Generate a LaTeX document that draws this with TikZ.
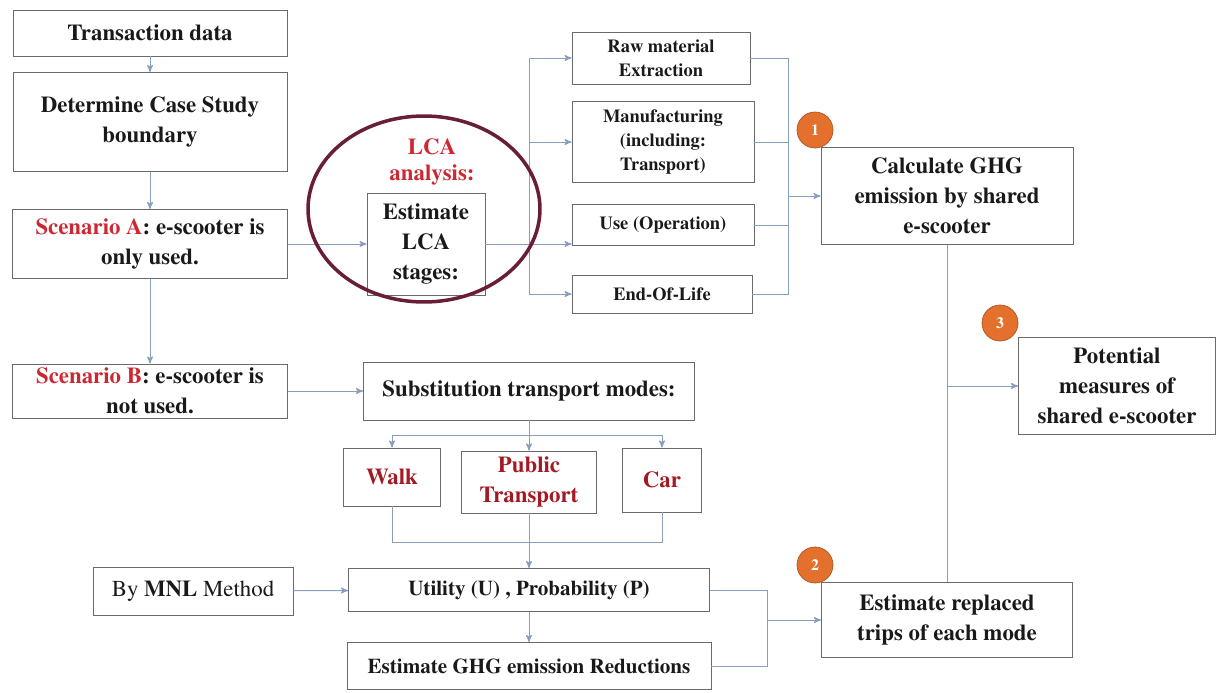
\documentclass[tikz,border=0pt]{standalone}
\usepackage[T1]{fontenc}
\usepackage{mathptmx}
\usetikzlibrary{arrows}
\definecolor{boxline}{RGB}{105,105,110}
\definecolor{linkline}{RGB}{135,158,190}
\definecolor{scenred}{RGB}{205,40,50}
\definecolor{modered}{RGB}{165,25,35}
\definecolor{ovalline}{RGB}{105,30,55}
\definecolor{badgeorange}{RGB}{228,112,45}
\definecolor{inkblack}{RGB}{25,25,25}

\begin{document}
\begin{tikzpicture}[x=0.02cm,y=-0.02cm]
\tikzstyle{every node}=[inner sep=1pt, text=inkblack]
\tikzstyle{box}=[draw=boxline, fill=white, align=center, font=\bfseries\fontsize{13}{17}\selectfont]
\tikzstyle{stage}=[box, font=\bfseries\fontsize{10.5}{13.5}\selectfont]
\tikzstyle{longbox}=[box, font=\bfseries\fontsize{12}{14}\selectfont]
\tikzstyle{badge}=[circle, fill=badgeorange, draw=badgeorange!75!black, minimum size=0.72cm, text=white, font=\bfseries\small]
\tikzstyle{link}=[draw=linkline, line width=0.55pt]
\tikzstyle{arr}=[link, ->, >=stealth']
\useasboundingbox (0,0) rectangle (1217,693);
% left column
\draw (150,33) node (tdata) [box, minimum width=5.48cm, minimum height=0.92cm] {Transaction data};
\draw (150,122) node (bound) [box, minimum width=5.48cm, minimum height=1.98cm] {Determine Case Study\\boundary};
\draw (150,244) node (scena) [box, minimum width=5.5cm, minimum height=1.38cm] {\textcolor{scenred}{Scenario A}: e-scooter is\\only used.};
\draw (150,391) node (scenb) [box, minimum width=5.5cm, minimum height=1.08cm] {\textcolor{scenred}{Scenario B}: e-scooter is\\not used.};
% LCA part
\draw (432,162) node (lcatitle) [align=center, text=scenred, font=\bfseries\fontsize{13}{15}\selectfont] {LCA\\analysis:};
\draw (426,244) node (lcast) [box, minimum width=2.36cm, minimum height=2.04cm] {Estimate\\LCA\\stages:};
\draw (661,58) node (raw) [stage, minimum width=3.56cm, minimum height=1.04cm] {Raw material\\Extraction};
\draw (663,142) node (manu) [stage, minimum width=3.64cm, minimum height=1.62cm] {Manufacturing\\(including:\\Transport)};
\draw (663,225) node (use) [stage, minimum width=3.64cm, minimum height=0.82cm] {Use (Operation)};
\draw (662,294) node (eol) [stage, minimum width=3.6cm, minimum height=0.76cm] {End-Of-Life};
\draw (947,196) node (ghg) [box, minimum width=5.04cm, minimum height=1.94cm] {Calculate GHG\\emission by shared\\e-scooter};
\draw (1117,386) node (meas) [box, minimum width=3.94cm, minimum height=1.94cm] {Potential\\measures of\\shared e-scooter};
% substitution part
\draw (529,391) node (subst) [box, minimum width=6.62cm, minimum height=1.16cm] {Substitution transport modes:};
\draw (392,477) node (walk) [box, text=modered, minimum width=1.94cm, minimum height=1.16cm] {Walk};
\draw (529,482) node (ptr) [box, text=modered, minimum width=2.7cm, minimum height=1.24cm] {Public\\Transport};
\draw (662,480) node (car) [box, text=modered, minimum width=1.58cm, minimum height=1.28cm] {Car};
\draw (193,591) node (mnl) [box, font=\fontsize{13}{15}\selectfont, minimum width=4cm, minimum height=0.96cm] {By \textbf{MNL} Method};
\draw (529,590) node (util) [longbox, minimum width=7.22cm, minimum height=0.86cm] {Utility (U) , Probability (P)};
\draw (529,666) node (redu) [longbox, minimum width=7.28cm, minimum height=0.94cm] {Estimate GHG emission Reductions};
\draw (947,620) node (repl) [box, minimum width=5.02cm, minimum height=1.5cm] {Estimate replaced\\trips of each mode};
% join points
\coordinate (lcasplit) at (529,244);
\coordinate (lcamerge) at (788,196);
\coordinate (modesplit) at (529,435);
\coordinate (modemerge) at (529,542);
\coordinate (utilmerge) at (767,620);
\coordinate (ghgsplit) at (947,386);
% connectors
\draw[arr] (tdata) -- (bound);
\draw[arr] (bound) -- (scena);
\draw[arr] (scena) -- (scenb);
\draw[arr] (scena) -- (lcast);
\draw[link] (lcast.east) -- (lcasplit);
\draw[arr] (lcasplit) |- (raw.west);
\draw[arr] (lcasplit) |- (manu.west);
\draw[arr] (lcasplit) -- (use.west |- lcasplit);
\draw[arr] (lcasplit) |- (eol.west);
\draw[link] (raw.east) -| (lcamerge);
\draw[link] (manu.east) -| (lcamerge);
\draw[link] (use.east) -| (lcamerge);
\draw[link] (eol.east) -| (lcamerge);
\draw[arr] (lcamerge) -- (ghg.west);
\draw[link] (ghg.south) -- (repl.north);
\draw[arr] (ghgsplit) -- (meas.west);
\draw[arr] (scenb) -- (subst);
\draw[link] (subst.south) -- (modesplit);
\draw[arr] (modesplit) -| (walk.north);
\draw[arr] (modesplit) -- (ptr.north);
\draw[arr] (modesplit) -| (car.north);
\draw[link] (walk.south) |- (modemerge);
\draw[link] (car.south) |- (modemerge);
\draw[link] (ptr.south) -- (modemerge);
\draw[arr] (modemerge) -- (util.north);
\draw[arr] (mnl) -- (util);
\draw[arr] (util) -- (redu);
\draw[link] (util.east) -| (utilmerge);
\draw[link] (redu.east) -| (utilmerge);
\draw[arr] (utilmerge) -- (repl.west);
% oval and badges
\draw[ovalline, line width=2pt] (424,209) ellipse [x radius=2.32cm, y radius=1.86cm];
\draw (815,130) node (badgea) [badge] {1};
\draw (815,565) node (badgeb) [badge] {2};
\draw (1000,323) node (badgec) [badge] {3};
\end{tikzpicture}
\end{document}
